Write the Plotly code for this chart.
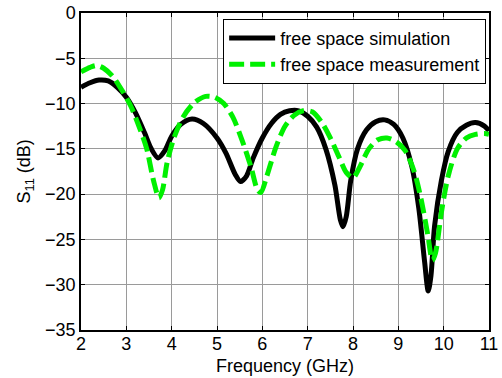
import plotly.graph_objects as go

# Simulated S11 in free space
sim_freq = [2.0, 2.2, 2.4, 2.6, 2.8, 3.0, 3.2, 3.4, 3.55, 3.7, 3.85, 4.0, 4.2, 4.45, 4.7,
            5.0, 5.2, 5.4, 5.52, 5.65, 5.8, 6.0, 6.2, 6.4, 6.6, 6.8, 7.0, 7.2, 7.4, 7.6,
            7.72, 7.78, 7.85, 7.95, 8.1, 8.3, 8.5, 8.7, 8.9, 9.1, 9.3, 9.45, 9.58, 9.66,
            9.72, 9.8, 9.95, 10.1, 10.3, 10.5, 10.7, 10.9, 11.0]
sim_s11 = [-8.2, -7.7, -7.4, -7.5, -8.2, -9.3, -11.0, -13.2, -15.0, -16.0, -15.2, -13.6,
           -12.3, -11.7, -12.2, -13.8, -15.5, -17.8, -18.6, -18.0, -16.0, -13.8, -12.2,
           -11.2, -10.8, -10.8, -11.4, -12.6, -15.0, -19.0, -22.8, -23.6, -22.5, -18.5,
           -15.0, -12.9, -12.0, -11.8, -12.3, -13.8, -17.0, -21.5, -27.5, -30.7, -29.0,
           -23.5, -18.5, -15.3, -13.2, -12.4, -12.1, -12.5, -13.0]

# Measured S11 in free space
meas_freq = [2.0, 2.2, 2.35, 2.5, 2.7, 2.9, 3.1, 3.3, 3.45, 3.6, 3.72, 3.8, 3.9, 4.05, 4.25,
             4.5, 4.75, 4.95, 5.15, 5.35, 5.55, 5.75, 5.9, 5.97, 6.1, 6.3, 6.5, 6.7, 6.9,
             7.1, 7.3, 7.5, 7.7, 7.85, 8.0, 8.15, 8.35, 8.55, 8.75, 8.95, 9.15, 9.35, 9.5,
             9.65, 9.75, 9.82, 9.95, 10.1, 10.3, 10.5, 10.7, 10.9, 11.0]
meas_s11 = [-6.5, -6.0, -5.8, -6.1, -7.0, -8.5, -10.3, -12.8, -15.0, -18.5, -20.4, -19.5,
            -16.5, -13.8, -11.5, -9.9, -9.2, -9.3, -10.0, -11.5, -14.0, -17.0, -19.6, -19.8,
            -18.0, -14.8, -12.5, -11.3, -10.8, -10.9, -12.0, -13.8, -16.0, -17.6, -18.2,
            -17.0, -15.0, -14.0, -13.8, -14.2, -15.2, -17.5, -20.5, -24.5, -27.3, -26.5,
            -22.0, -18.0, -15.0, -13.8, -13.4, -13.3, -13.4]

x_ticks = [2, 3, 4, 5, 6, 7, 8, 9, 10, 11]
y_ticks = [0, -5, -10, -15, -20, -25, -30, -35]

x_title = "Frequency (GHz)"
y_title = "S<sub>11</sub> (dB)"

font = dict(family="Liberation Sans, Arial, sans-serif", size=18, color="black")

fig = go.Figure()
fig.add_trace(go.Scatter(x=sim_freq, y=sim_s11, mode="lines",
                         name="free space simulation",
                         line=dict(color="black", width=5, shape="spline", smoothing=0.8)))
fig.add_trace(go.Scatter(x=meas_freq, y=meas_s11, mode="lines",
                         name="free space measurement",
                         line=dict(color="#00f000", width=5, dash="15px,6px",
                                   shape="spline", smoothing=0.8)))

axis_common = dict(showline=True, linecolor="black", linewidth=1.5, mirror="ticks",
                   ticks="inside", ticklen=4, tickcolor="black",
                   showgrid=True, gridcolor="#9a9a9a", gridwidth=1,
                   zeroline=False, tickfont=font, automargin=False)

fig.update_xaxes(range=[2, 11], tickvals=x_ticks, ticklabelstandoff=-3, **axis_common)
fig.update_yaxes(range=[-35, 0], tickvals=y_ticks, **axis_common)

# Axis titles placed as paper-anchored annotations
fig.add_annotation(text=x_title, xref="paper", yref="paper", x=0.5, y=-0.115,
                   xanchor="center", yanchor="middle", showarrow=False, font=font)
fig.add_annotation(text=y_title, xref="paper", yref="paper", x=-0.135, y=0.5,
                   xanchor="center", yanchor="middle", textangle=-90,
                   showarrow=False, font=font)

fig.update_layout(
    width=502, height=378,
    margin=dict(l=81, r=13, t=13, b=48),
    paper_bgcolor="white", plot_bgcolor="white",
    font=font,
    legend=dict(x=0.993, y=0.982, xanchor="right", yanchor="top",
                bgcolor="white", bordercolor="black", borderwidth=1,
                font=dict(family="Liberation Sans, Arial, sans-serif", size=18),
                tracegroupgap=0, itemwidth=46),
    showlegend=True,
)

fig.write_html("out.html")
